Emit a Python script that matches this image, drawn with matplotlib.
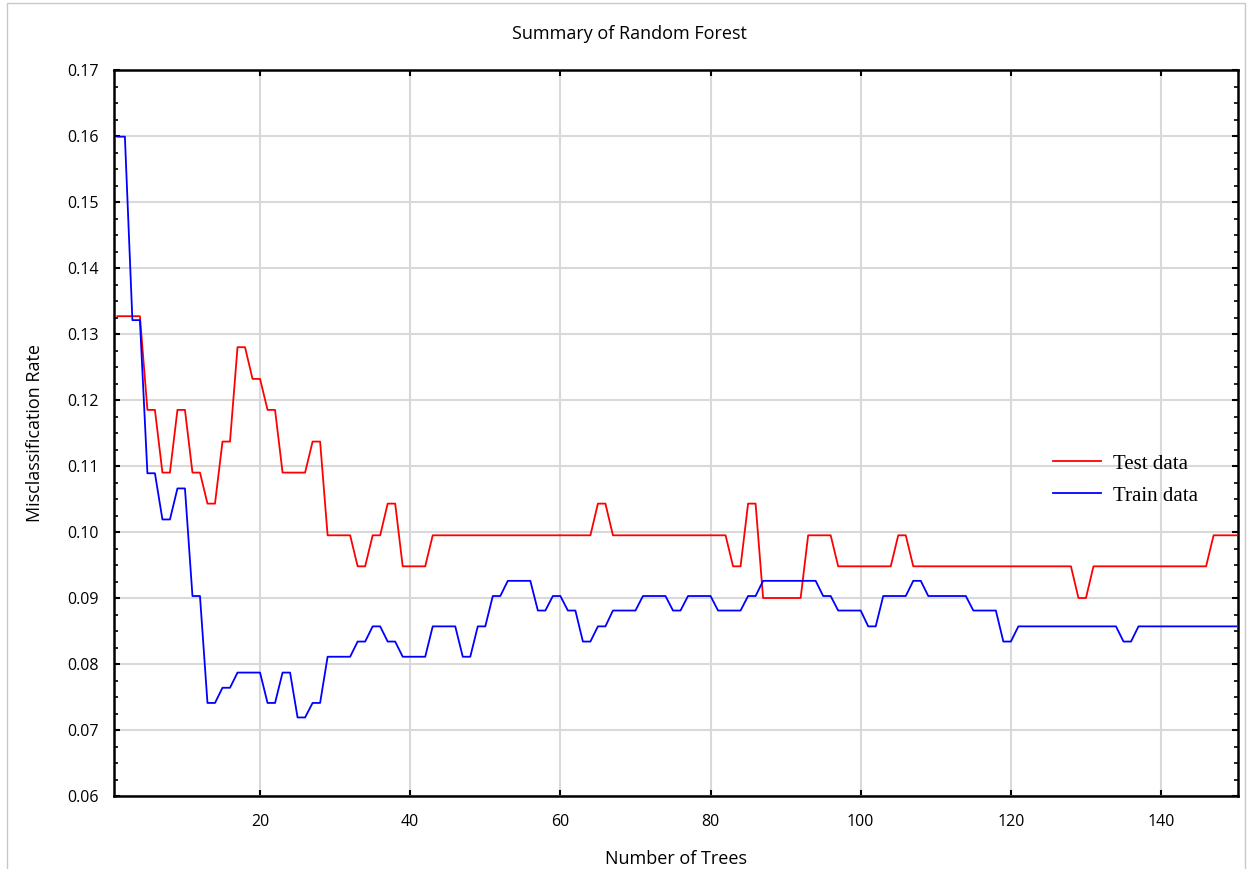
import matplotlib
matplotlib.use("Agg")
import matplotlib.pyplot as plt
from matplotlib.patches import Rectangle
from matplotlib.ticker import MultipleLocator, FormatStrFormatter

trees = list(range(1, 151))

test_rate = [
    0.1327, 0.1327, 0.1327, 0.1327, 0.1185, 0.1185, 0.1090, 0.1090, 0.1185, 0.1185,
    0.1090, 0.1090, 0.1043, 0.1043, 0.1137, 0.1137, 0.1280, 0.1280, 0.1232, 0.1232,
    0.1185, 0.1185, 0.1090, 0.1090, 0.1090, 0.1090, 0.1137, 0.1137, 0.0995, 0.0995,
    0.0995, 0.0995, 0.0948, 0.0948, 0.0995, 0.0995, 0.1043, 0.1043, 0.0948, 0.0948,
    0.0948, 0.0948, 0.0995, 0.0995, 0.0995, 0.0995, 0.0995, 0.0995, 0.0995, 0.0995,
    0.0995, 0.0995, 0.0995, 0.0995, 0.0995, 0.0995, 0.0995, 0.0995, 0.0995, 0.0995,
    0.0995, 0.0995, 0.0995, 0.0995, 0.1043, 0.1043, 0.0995, 0.0995, 0.0995, 0.0995,
    0.0995, 0.0995, 0.0995, 0.0995, 0.0995, 0.0995, 0.0995, 0.0995, 0.0995, 0.0995,
    0.0995, 0.0995, 0.0948, 0.0948, 0.1043, 0.1043, 0.0900, 0.0900, 0.0900, 0.0900,
    0.0900, 0.0900, 0.0995, 0.0995, 0.0995, 0.0995, 0.0948, 0.0948, 0.0948, 0.0948,
    0.0948, 0.0948, 0.0948, 0.0948, 0.0995, 0.0995, 0.0948, 0.0948, 0.0948, 0.0948,
    0.0948, 0.0948, 0.0948, 0.0948, 0.0948, 0.0948, 0.0948, 0.0948, 0.0948, 0.0948,
    0.0948, 0.0948, 0.0948, 0.0948, 0.0948, 0.0948, 0.0948, 0.0948, 0.0900, 0.0900,
    0.0948, 0.0948, 0.0948, 0.0948, 0.0948, 0.0948, 0.0948, 0.0948, 0.0948, 0.0948,
    0.0948, 0.0948, 0.0948, 0.0948, 0.0948, 0.0948, 0.0995, 0.0995, 0.0995, 0.0995,
]

train_rate = [
    0.1599, 0.1599, 0.1321, 0.1321, 0.1089, 0.1089, 0.1019, 0.1019, 0.1066, 0.1066,
    0.0903, 0.0903, 0.0741, 0.0741, 0.0764, 0.0764, 0.0787, 0.0787, 0.0787, 0.0787,
    0.0741, 0.0741, 0.0787, 0.0787, 0.0719, 0.0719, 0.0741, 0.0741, 0.0811, 0.0811,
    0.0811, 0.0811, 0.0834, 0.0834, 0.0857, 0.0857, 0.0834, 0.0834, 0.0811, 0.0811,
    0.0811, 0.0811, 0.0857, 0.0857, 0.0857, 0.0857, 0.0811, 0.0811, 0.0857, 0.0857,
    0.0903, 0.0903, 0.0926, 0.0926, 0.0926, 0.0926, 0.0881, 0.0881, 0.0903, 0.0903,
    0.0881, 0.0881, 0.0834, 0.0834, 0.0857, 0.0857, 0.0881, 0.0881, 0.0881, 0.0881,
    0.0903, 0.0903, 0.0903, 0.0903, 0.0881, 0.0881, 0.0903, 0.0903, 0.0903, 0.0903,
    0.0881, 0.0881, 0.0881, 0.0881, 0.0903, 0.0903, 0.0926, 0.0926, 0.0926, 0.0926,
    0.0926, 0.0926, 0.0926, 0.0926, 0.0903, 0.0903, 0.0881, 0.0881, 0.0881, 0.0881,
    0.0857, 0.0857, 0.0903, 0.0903, 0.0903, 0.0903, 0.0926, 0.0926, 0.0903, 0.0903,
    0.0903, 0.0903, 0.0903, 0.0903, 0.0881, 0.0881, 0.0881, 0.0881, 0.0834, 0.0834,
    0.0857, 0.0857, 0.0857, 0.0857, 0.0857, 0.0857, 0.0857, 0.0857, 0.0857, 0.0857,
    0.0857, 0.0857, 0.0857, 0.0857, 0.0834, 0.0834, 0.0857, 0.0857, 0.0857, 0.0857,
    0.0857, 0.0857, 0.0857, 0.0857, 0.0857, 0.0857, 0.0857, 0.0857, 0.0857, 0.0857,
]

series_labels = ["Test data", "Train data"]
title = "Summary of Random Forest"
xlabel = "Number of Trees"
ylabel = "Misclassification Rate"

plt.rcParams['font.family'] = ['Open Sans', 'DejaVu Sans']

fig = plt.figure(figsize=(12.48, 8.69), dpi=100)
fig.patches.append(Rectangle((7 / 1248, -0.01), 1238 / 1248, 1 - 3 / 869 + 0.01,
                             transform=fig.transFigure, fill=False,
                             edgecolor='#c8c8c8', linewidth=1.0))
ax = fig.add_axes([114 / 1248, 1 - 796 / 869, 1124 / 1248, 726 / 869])

ax.plot(trees, test_rate, color='#ff0000', lw=1.3, label=series_labels[0], zorder=3)
ax.plot(trees, train_rate, color='#0000ff', lw=1.3, label=series_labels[1], zorder=3)

ax.set_xlim(0.55, 150.25)
ax.set_ylim(0.06, 0.17)
ax.xaxis.set_major_locator(MultipleLocator(20))
ax.yaxis.set_major_locator(MultipleLocator(0.01))
ax.yaxis.set_minor_locator(MultipleLocator(0.0025))
ax.yaxis.set_major_formatter(FormatStrFormatter('%.2f'))

ax.grid(True, which='major', color='#d9d9d9', lw=1.5, zorder=0)
ax.set_axisbelow(True)

for s in ax.spines.values():
    s.set_linewidth(1.8)
    s.set_color('black')

ax.tick_params(axis='both', which='major', direction='in', length=4, width=1.5,
               labelsize=11.5, top=True, right=True)
ax.tick_params(axis='y', which='minor', direction='in', length=3, width=1.2,
               left=True, right=True)
ax.tick_params(axis='x', which='major', pad=13)
ax.tick_params(axis='y', which='major', pad=11)

ax.set_title(title, fontsize=13, pad=22, x=(629 - 114) / 1124)
ax.set_xlabel(xlabel, fontsize=13, labelpad=14)
ax.set_ylabel(ylabel, fontsize=13, labelpad=17)

leg = ax.legend(loc='center left', bbox_to_anchor=(0.819, 0.4355), frameon=False,
                prop={'family': 'Liberation Serif', 'size': 15},
                handlelength=2.3, handletextpad=0.58, labelspacing=0.6)

fig.savefig('out.png', dpi=100)
